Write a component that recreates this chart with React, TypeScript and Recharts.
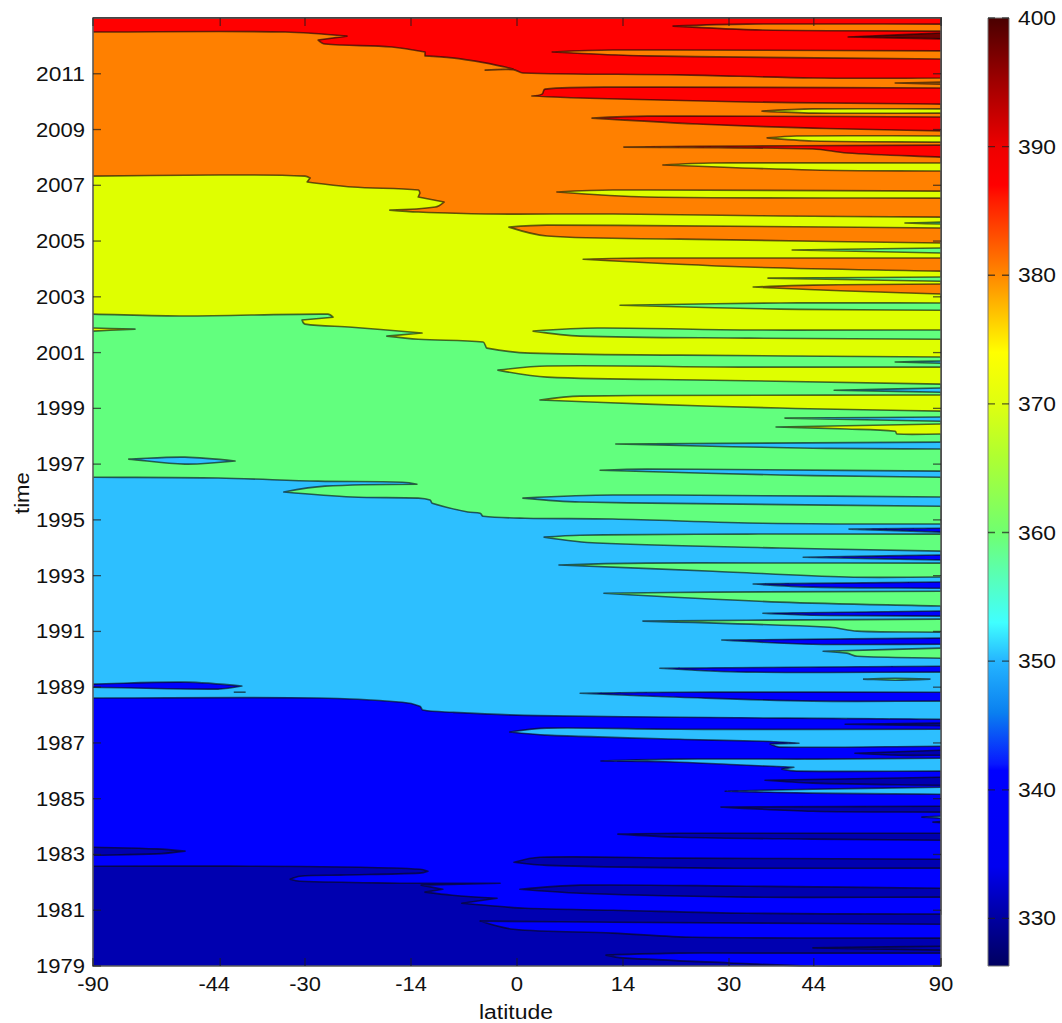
import React from 'react';
import { Bar, BarChart, ReferenceArea, ReferenceLine, Scatter, ScatterChart, XAxis, YAxis } from 'recharts';

type Contour = [number, number][];

// x values are sine of latitude, y values are years
const sinTicks = [-1, -0.7, -0.5, -0.25, 0, 0.25, 0.5, 0.7, 1];
const latLabels = ['-90', '-44', '-30', '-14', '0', '14', '30', '44', '90'];
const yearTicks = [1979, 1981, 1983, 1985, 1987, 1989, 1991, 1993, 1995, 1997, 1999, 2001, 2003, 2005, 2007, 2009, 2011];
const colorbarTicks = [330, 340, 350, 360, 370, 380, 390, 400];

const navy = '#0000b0';
const blue = '#0000ff';
const sky = '#2dbfff';
const green = '#62ff7e';
const lime = '#dfff00';
const orange = '#ff8000';
const red = '#ff0000';
const maroon = '#700000';

// main level boundaries, west to east
const blueEdge: Contour = [[-1,1982.58],[-.63,1982.58],[-.37,1982.54],[-.229,1982.47],[-.21,1982.4],[-.229,1982.33],[-.417,1982.26],[-.512,1982.22],[-.535,1982.11],[-.512,1982.04],[-.276,1981.97],[-.226,1981.97],[-.04,1981.97],[-.226,1981.9],[-.175,1981.75],[-.217,1981.65],[-.153,1981.54],[-.047,1981.43],[-.13,1981.25],[-.075,1981.18],[.019,1981.07],[.226,1981],[.542,1980.89],[1,1980.86]];
const skyEdge: Contour = [[-1,1988.61],[-.469,1988.61],[-.271,1988.46],[-.229,1988.32],[-.222,1988.18],[-.153,1988.1],[.019,1987.99],[.384,1987.92],[1,1987.85]];
const greenEdge: Contour = [[-1,1996.53],[-.705,1996.5],[-.469,1996.39],[-.271,1996.35],[-.236,1996.28],[-.453,1996.21],[-.55,1996],[-.389,1995.82],[-.233,1995.78],[-.205,1995.71],[-.2,1995.6],[-.116,1995.28],[-.087,1995.24],[-.08,1995.13],[.019,1995.06],[.226,1995.03],[.58,1994.88],[1,1994.85]];
const limeEdge: Contour = [[-1,2002.38],[-.783,2002.31],[-.446,2002.38],[-.434,2002.27],[-.507,2002.17],[-.5,2002.02],[-.389,2001.91],[-.224,2001.7],[-.307,2001.59],[-.233,2001.48],[-.08,2001.38],[-.075,2001.27],[-.071,2001.16],[.031,2000.98],[.384,2000.91],[1,2000.84]];
const orangeEdge: Contour = [[-1,2007.33],[-.642,2007.37],[-.5,2007.33],[-.488,2007.26],[-.495,2007.12],[-.389,2006.94],[-.233,2006.83],[-.229,2006.72],[-.233,2006.58],[-.172,2006.4],[-.193,2006.22],[-.3,2006.11],[-.233,2006.04],[-.075,2005.97],[.226,2005.97],[.62,2005.9],[1,2005.86]];
const redEdge: Contour = [[-1,2012.5],[-.547,2012.5],[-.401,2012.35],[-.469,2012.21],[-.453,2012.07],[-.295,2011.96],[-.217,2011.78],[-.217,2011.64],[-.153,2011.57],[-.075,2011.39],[-.028,2011.24],[-.009,2011.17],[-.075,2011.13],[-.009,2011.15],[.014,2011.03],[.384,2010.96],[.698,2010.85],[1,2010.85]];
const topCorners: Contour = [[1,2013],[-1,2013]];
const plotCorners: Contour = [[-1,1979],[1,2013]];

// tongues coming in from the north pole side
const navyTongues: Contour[] = [
  [[1,1987.71],[.774,1987.67],[1,1987.62]],
  [[1,1986.74],[.797,1986.63],[.9,1986.56],[1,1986.56]],
  [[1,1985.77],[.585,1985.66],[.698,1985.56],[1,1985.48]],
  [[1,1984.73],[.481,1984.7],[.698,1984.55],[1,1984.52]],
  [[1,1983.76],[.384,1983.76],[.238,1983.73],[.384,1983.62],[.698,1983.55],[1,1983.51]],
  [[1,1982.83],[.384,1982.87],[.054,1982.9],[-.007,1982.72],[.071,1982.61],[.462,1982.51],[1,1982.51]],
  [[1,1981.79],[.542,1981.86],[.149,1981.9],[.007,1981.75],[.149,1981.61],[.542,1981.47],[1,1981.47]],
  [[1,1979.71],[.698,1979.65],[1,1979.57]],
  [[1,1984.18],[.981,1984.16],[1,1984.14]],
  [[-1,1983.26],[-.85,1983.2],[-.783,1983.12],[-.85,1983.02],[-1,1982.97]],
];
const blueTongues: Contour[] = [
  [[1,1988.82],[.384,1988.82],[.149,1988.78],[.384,1988.64],[.698,1988.5],[1,1988.5]],
  [[1,1989.75],[.337,1989.68],[.542,1989.54],[1,1989.54]],
  [[1,1990.76],[.483,1990.69],[.698,1990.54],[1,1990.54]],
  [[1,1991.73],[.58,1991.65],[.698,1991.58],[1,1991.55]],
  [[1,1992.77],[.557,1992.7],[.698,1992.59],[1,1992.55]],
  [[1,1993.74],[.675,1993.66],[1,1993.56]],
  [[1,1994.7],[.783,1994.67],[1,1994.56]],
  [[-1,1989.11],[-.783,1989.18],[-.649,1989.04],[-.705,1988.93],[-1,1989]],
  [[-.668,1988.82],[-.64,1988.82]],
  [[1,1980.5],[.226,1980.57],[-.087,1980.61],[-.009,1980.32],[.226,1980.18],[.415,1980.03],[1,1980]],
  [[1,1979.46],[.698,1979.46],[.384,1979.46],[.21,1979.39],[.25,1979.29],[.502,1979.11],[.691,1979],[1,1979]],
];
const skyTongues: Contour[] = [
  [[1,1987.49],[.384,1987.49],[.071,1987.53],[-.017,1987.39],[.071,1987.28],[.384,1987.13],[.58,1987.06],[.665,1986.99],[.597,1986.96],[.62,1986.85],[1,1986.88]],
  [[1,1986.45],[.698,1986.42],[.384,1986.42],[.198,1986.35],[.384,1986.31],[.542,1986.2],[.653,1986.13],[.625,1986.06],[.66,1985.99],[1,1985.99]],
  [[1,1985.41],[.698,1985.34],[.491,1985.27],[.698,1985.2],[1,1985.16]],
  [[1,1984.37],[.955,1984.34],[1,1984.3]],
  [[1,1995.82],[.226,1995.89],[.014,1995.78],[.149,1995.64],[1,1995.49]],
  [[1,1996.75],[.307,1996.82],[.196,1996.78],[.62,1996.61],[1,1996.53]],
  [[1,1997.79],[.233,1997.72],[.698,1997.57],[1,1997.54]],
  [[1,1998.69],[.632,1998.65],[1,1998.54]],
  [[1,1999.73],[.748,1999.65],[1,1999.58]],
  [[1,2000.7],[.892,2000.66],[1,2000.62]],
  [[-.917,1997.18],[-.783,1997.25],[-.665,1997.11],[-.783,1997],[-.917,1997.18]],
];
const greenTongues: Contour[] = [
  [[1,1994.49],[.542,1994.49],[.149,1994.45],[.064,1994.38],[.189,1994.17],[.62,1993.99],[1,1993.88]],
  [[1,1993.45],[.307,1993.45],[.099,1993.38],[.462,1993.16],[.778,1992.95],[1,1992.95]],
  [[1,1992.44],[.462,1992.41],[.205,1992.37],[.62,1992.05],[1,1991.91]],
  [[1,1991.44],[.542,1991.4],[.297,1991.37],[.738,1991.15],[.802,1991.01],[1,1990.97]],
  [[1,1990.4],[.722,1990.29],[.778,1990.22],[.802,1990.11],[1,1990.04]],
  [[.816,1989.29],[.892,1989.32],[.974,1989.29],[.892,1989.25],[.816,1989.29]],
  [[1,2001.81],[.542,2001.81],[.189,2001.88],[.038,2001.77],[.149,2001.59],[.542,2001.52],[1,2001.48]],
  [[1,2002.78],[.62,2002.78],[.243,2002.7],[.62,2002.56],[1,2002.52]],
  [[1,2003.71],[.592,2003.67],[1,2003.56]],
  [[1,2004.75],[.649,2004.68],[1,2004.57]],
  [[1,2005.68],[.915,2005.65],[1,2005.61]],
];
const limeTongues: Contour[] = [
  [[1,1999.48],[.149,1999.44],[.054,1999.3],[.307,1999.15],[.62,1999.01],[1,1998.9]],
  [[1,2000.48],[.542,2000.48],[.071,2000.52],[-.045,2000.37],[.071,2000.12],[.462,2000.01],[1,1999.87]],
  [[1,1998.44],[.611,1998.33],[.778,1998.26],[.892,1998.18],[.896,1998.08],[1,1998.08]],
  [[-1,2001.88],[-.901,2001.84],[-1,2001.77]],
  [[1,2006.79],[.226,2006.83],[.094,2006.76],[.307,2006.58],[1,2006.54]],
  [[1,2007.8],[.462,2007.8],[.344,2007.73],[.698,2007.55],[1,2007.51]],
  [[1,2008.77],[.66,2008.77],[.59,2008.7],[.698,2008.59],[1,2008.55]],
  [[1,2009.74],[.698,2009.74],[.578,2009.66],[.698,2009.59],[1,2009.59]],
];
const orangeTongues: Contour[] = [
  [[1,2005.47],[.071,2005.57],[-.019,2005.5],[.071,2005.18],[.384,2005.07],[1,2004.93]],
  [[1,2004.39],[.307,2004.39],[.156,2004.35],[.542,2004.07],[1,2003.92]],
  [[1,2003.46],[.698,2003.42],[.557,2003.35],[.778,2003.21],[1,2003.1]],
  [[1,2011.82],[.226,2011.85],[.083,2011.78],[.307,2011.64],[1,2011.53]],
  [[1,2012.78],[.542,2012.78],[.368,2012.71],[.58,2012.57],[1,2012.53]],
  [[1,2010.7],[.892,2010.67],[1,2010.63]],
];
const redTongues: Contour[] = [
  [[1,2010.49],[.226,2010.52],[.066,2010.45],[.059,2010.27],[.035,2010.2],[.149,2010.13],[.542,2009.99],[1,2009.91]],
  [[1,2009.45],[.307,2009.48],[.177,2009.41],[.425,2009.2],[.698,2009.05],[1,2008.95]],
  [[1,2008.44],[.542,2008.41],[.252,2008.37],[.698,2008.3],[.778,2008.16],[1,2008.01]],
];
const maroonTongues: Contour[] = [[[1,2012.46],[.781,2012.32],[1,2012.25]]];

const colorbarStops: [number, string][] = [
  [400, '#4a0000'], [395, '#a00000'], [390, '#ee0000'], [387, '#ff0000'], [386, '#ff1800'], [380, '#ff8800'],
  [378, '#ffb000'], [374, '#ffff00'], [370, '#dfff10'], [366, '#b0ff30'], [360, '#70ff70'], [353, '#40ffff'],
  [350, '#25b5ff'], [346, '#0a80f0'], [342, '#0818ff'], [341.5, '#0000ff'], [334, '#0000f0'], [330, '#0000a0'], [326.3, '#000060'],
];

const bandLayers: { color: string; contours: Contour[] }[] = [
  { color: blue, contours: [[...blueEdge, ...topCorners]] },
  { color: sky, contours: [[...skyEdge, ...topCorners]] },
  { color: green, contours: [[...greenEdge, ...topCorners]] },
  { color: lime, contours: [[...limeEdge, ...topCorners]] },
  { color: orange, contours: [[...orangeEdge, ...topCorners]] },
  { color: red, contours: [[...redEdge, ...topCorners]] },
  { color: navy, contours: navyTongues },
  { color: blue, contours: blueTongues },
  { color: sky, contours: skyTongues },
  { color: green, contours: greenTongues },
  { color: lime, contours: limeTongues },
  { color: orange, contours: orangeTongues },
  { color: red, contours: redTongues },
  { color: maroon, contours: maroonTongues },
];

const W = 1062;
const H = 1023;
const PLOT_TOP = 18;
const PLOT_BOTTOM = 966;
const PLOT_LEFT = 93;
const PLOT_RIGHT = 941;
const FONT = '"Liberation Sans", Arial, sans-serif';
const TICK_LEN = 8;
const TICK_COLOR = 'rgba(30,30,30,0.7)';
const TEXT_COLOR = '#111';

// the reference glyphs are a bit wider than Liberation at this height
const labelWidth = (s: string) => s.replace('-', '').length * 12.3 + (s.includes('-') ? 7 : 0);

// smooth through the points, but keep the sharp turn at each tongue tip
const contourCurve = (context: any) => {
  let pts: [number, number][] = [];
  return {
    areaStart() {},
    areaEnd() {},
    lineStart() {
      pts = [];
    },
    point(x: number, y: number) {
      pts.push([x, y]);
    },
    lineEnd() {
      if (!pts.length) return;
      const tangent = (i: number): [number, number] => {
        const p = pts[i];
        const a = pts[i - 1] ?? p;
        const b = pts[i + 1] ?? p;
        const ax = p[0] - a[0];
        const bx = b[0] - p[0];
        if (ax * bx <= 0 && i > 0 && i < pts.length - 1) return [0, 0];
        const dx = b[0] - a[0];
        const dy = b[1] - a[1];
        const len = Math.hypot(dx, dy) || 1;
        return [dx / len, dy / len];
      };
      context.moveTo(pts[0][0], pts[0][1]);
      for (let i = 1; i < pts.length; i++) {
        const p0 = pts[i - 1];
        const p1 = pts[i];
        const seg = Math.hypot(p1[0] - p0[0], p1[1] - p0[1]) / 3;
        const t0 = tangent(i - 1);
        const t1 = tangent(i);
        context.bezierCurveTo(p0[0] + t0[0] * seg, p0[1] + t0[1] * seg, p1[0] - t1[0] * seg, p1[1] - t1[1] * seg, p1[0], p1[1]);
      }
    },
  };
};

const XTick = ({ x, payload }: any) => {
  const label = latLabels[sinTicks.indexOf(payload.value)];
  const dx = label === '-44' ? -6 : 0;
  return (
    <g>
      <line x1={x} x2={x} y1={PLOT_BOTTOM} y2={PLOT_BOTTOM - TICK_LEN} stroke={TICK_COLOR} strokeWidth={1.3} />
      <line x1={x} x2={x} y1={PLOT_TOP} y2={PLOT_TOP + TICK_LEN} stroke={TICK_COLOR} strokeWidth={1.3} />
      <text x={x + dx} y={991} textAnchor="middle" fontSize={20} fontFamily={FONT} fill={TEXT_COLOR} textLength={labelWidth(label)} lengthAdjust="spacingAndGlyphs">
        {label}
      </text>
    </g>
  );
};

const YTick = ({ y, payload }: any) => (
  <g>
    <line x1={PLOT_LEFT} x2={PLOT_LEFT + TICK_LEN} y1={y} y2={y} stroke={TICK_COLOR} strokeWidth={1.3} />
    <line x1={PLOT_RIGHT} x2={PLOT_RIGHT - TICK_LEN} y1={y} y2={y} stroke={TICK_COLOR} strokeWidth={1.3} />
    <text x={85} y={y + 7} textAnchor="end" fontSize={20} fontFamily={FONT} fill={TEXT_COLOR} textLength={49} lengthAdjust="spacingAndGlyphs">
      {payload.value}
    </text>
  </g>
);

const BarTick = ({ y, payload }: any) => (
  <text x={1018} y={y + 7} fontSize={20} fontFamily={FONT} fill={TEXT_COLOR} textLength={38} lengthAdjust="spacingAndGlyphs">
    {payload.value}
  </text>
);

const LatitudeTitle = () => (
  <text x={516} y={1019} textAnchor="middle" fontSize={20} fontFamily={FONT} fill={TEXT_COLOR} textLength={74} lengthAdjust="spacingAndGlyphs">
    latitude
  </text>
);

const TimeTitle = () => (
  <text transform="translate(29 493) rotate(-90)" textAnchor="middle" fontSize={20} fontFamily={FONT} fill={TEXT_COLOR} textLength={42} lengthAdjust="spacingAndGlyphs">
    time
  </text>
);

export default function App() {
  const colorbarData = [{ name: 'ppm', range: [326.3, 400] }];
  return (
    <div style={{ position: 'absolute', left: 0, top: 0, width: W, height: H, background: '#fff' }}>
      <div style={{ position: 'absolute', left: 0, top: 0 }}>
        <ScatterChart
          width={W}
          height={H}
          margin={{ top: PLOT_TOP, right: W - PLOT_RIGHT, bottom: H - PLOT_BOTTOM, left: PLOT_LEFT }}
        >
          <XAxis type="number" dataKey="x" domain={[-1, 1]} hide />
          <YAxis type="number" dataKey="y" domain={[1979, 2013]} hide />
          <ReferenceArea x1={-1} x2={1} y1={1979} y2={2013} fill={navy} fillOpacity={1} stroke="none" />
          {bandLayers.flatMap((layer, i) =>
            layer.contours.map((contour, j) => (
              <Scatter
                key={`${i}-${j}`}
                data={contour.map(([x, y]) => ({ x, y }))}
                line={{ fill: layer.color, stroke: 'rgba(10,10,10,0.62)', strokeWidth: 1.6, strokeLinejoin: 'round' }}
                lineJointType={contourCurve as any}
                shape={() => null}
                isAnimationActive={false}
              />
            ))
          )}
        </ScatterChart>
      </div>
      <div style={{ position: 'absolute', left: 0, top: 0 }}>
        <BarChart
          width={W}
          height={H}
          data={colorbarData}
          barCategoryGap={0}
          margin={{ top: PLOT_TOP, right: 0, bottom: H - PLOT_BOTTOM, left: 988 }}
        >
          <defs>
            <linearGradient id="jetBar" x1="0" y1="0" x2="0" y2="1">
              {colorbarStops.map(([level, color]) => (
                <stop key={level} offset={(400 - level) / (400 - 326.3)} stopColor={color} />
              ))}
            </linearGradient>
          </defs>
          <XAxis dataKey="name" hide />
          <YAxis
            orientation="right"
            type="number"
            domain={[326.3, 400]}
            ticks={colorbarTicks}
            width={53}
            axisLine={false}
            tickLine={false}
            interval={0}
            tick={<BarTick />}
          />
          <Bar dataKey="range" fill="url(#jetBar)" stroke="#777" strokeWidth={1} isAnimationActive={false} />
          {colorbarTicks.map(level => (
            <ReferenceLine key={level} y={level} stroke={TICK_COLOR} strokeWidth={1.3} strokeDasharray="7 7" />
          ))}
        </BarChart>
      </div>
      {/* axes sit in their own chart so the ticks land on top of the filled contours */}
      <div style={{ position: 'absolute', left: 0, top: 0, pointerEvents: 'none' }}>
        <ScatterChart width={W} height={H} margin={{ top: PLOT_TOP, right: W - PLOT_RIGHT, bottom: 0, left: 0 }}>
          <XAxis
            type="number"
            dataKey="x"
            domain={[-1, 1]}
            ticks={sinTicks}
            height={H - PLOT_BOTTOM}
            axisLine={false}
            tickLine={false}
            interval={0}
            tick={<XTick />}
            label={<LatitudeTitle />}
          />
          <YAxis
            type="number"
            dataKey="y"
            domain={[1979, 2013]}
            ticks={yearTicks}
            width={PLOT_LEFT}
            axisLine={false}
            tickLine={false}
            interval={0}
            tick={<YTick />}
            label={<TimeTitle />}
          />
          <ReferenceArea x1={-1} x2={1} y1={1979} y2={2013} fill="none" stroke="#5a5a5a" strokeWidth={1.6} />
          <Scatter data={plotCorners.map(([x, y]) => ({ x, y }))} shape={() => null} isAnimationActive={false} />
        </ScatterChart>
      </div>
    </div>
  );
}
